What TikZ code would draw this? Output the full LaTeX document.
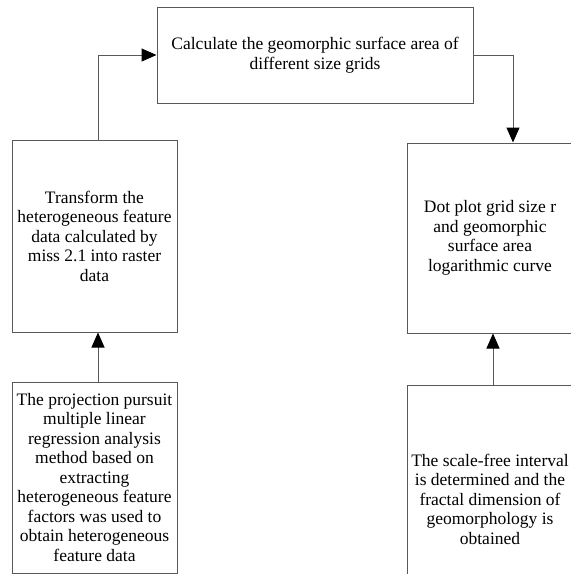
\documentclass[tikz,border=0pt]{standalone}
\usepackage{fontspec}
\setmainfont{Liberation Serif}
\usetikzlibrary{arrows.meta}

\tikzset{
  stepbox/.style={draw=black!65,line width=1pt,align=center,inner sep=1pt,
    font=\fontsize{17.5}{19.5}\selectfont},
  flow/.style={draw=black!65,line width=1pt,-{Triangle[length=15pt,width=13pt,fill=black,color=black]}}
}

\begin{document}
\begin{tikzpicture}[x=1pt,y=-1pt]
  \useasboundingbox (0,0) rectangle (571,574);

\node[stepbox,minimum width=316pt,minimum height=96pt] (calc) at (315,55)
  {Calculate the geomorphic surface area of\\different size grids};

\node[stepbox,minimum width=165pt,minimum height=192pt] (transform) at (94.5,236)
  {Transform the\\heterogeneous feature\\data calculated by\\miss 2.1 into raster\\data};

\node[stepbox,minimum width=166pt,minimum height=190pt] (dotplot) at (490,238)
  {Dot plot grid size r\\and geomorphic\\surface area\\logarithmic curve};

\node[stepbox,minimum width=165pt,minimum height=191pt] (projection) at (94.5,477.5)
  {The projection pursuit\\multiple linear\\regression analysis\\method based on\\extracting\\heterogeneous feature\\factors was used to\\obtain heterogeneous\\feature data};

\node[stepbox,minimum width=166pt,minimum height=228pt] (scalefree) at (490,499)
  {The scale-free interval\\is determined and the\\fractal dimension of\\geomorphology is\\obtained};

\draw[flow] ([xshift=3.5pt]transform.north) |- (calc.west);
\draw[flow] (calc.east) -| ([xshift=23pt]dotplot.north);
\draw[flow] ([xshift=3.5pt]projection.north) -- ([xshift=3.5pt]transform.south);
\draw[flow] ([xshift=3pt]scalefree.north) -- ([xshift=3pt]dotplot.south);

\end{tikzpicture}
\end{document}
